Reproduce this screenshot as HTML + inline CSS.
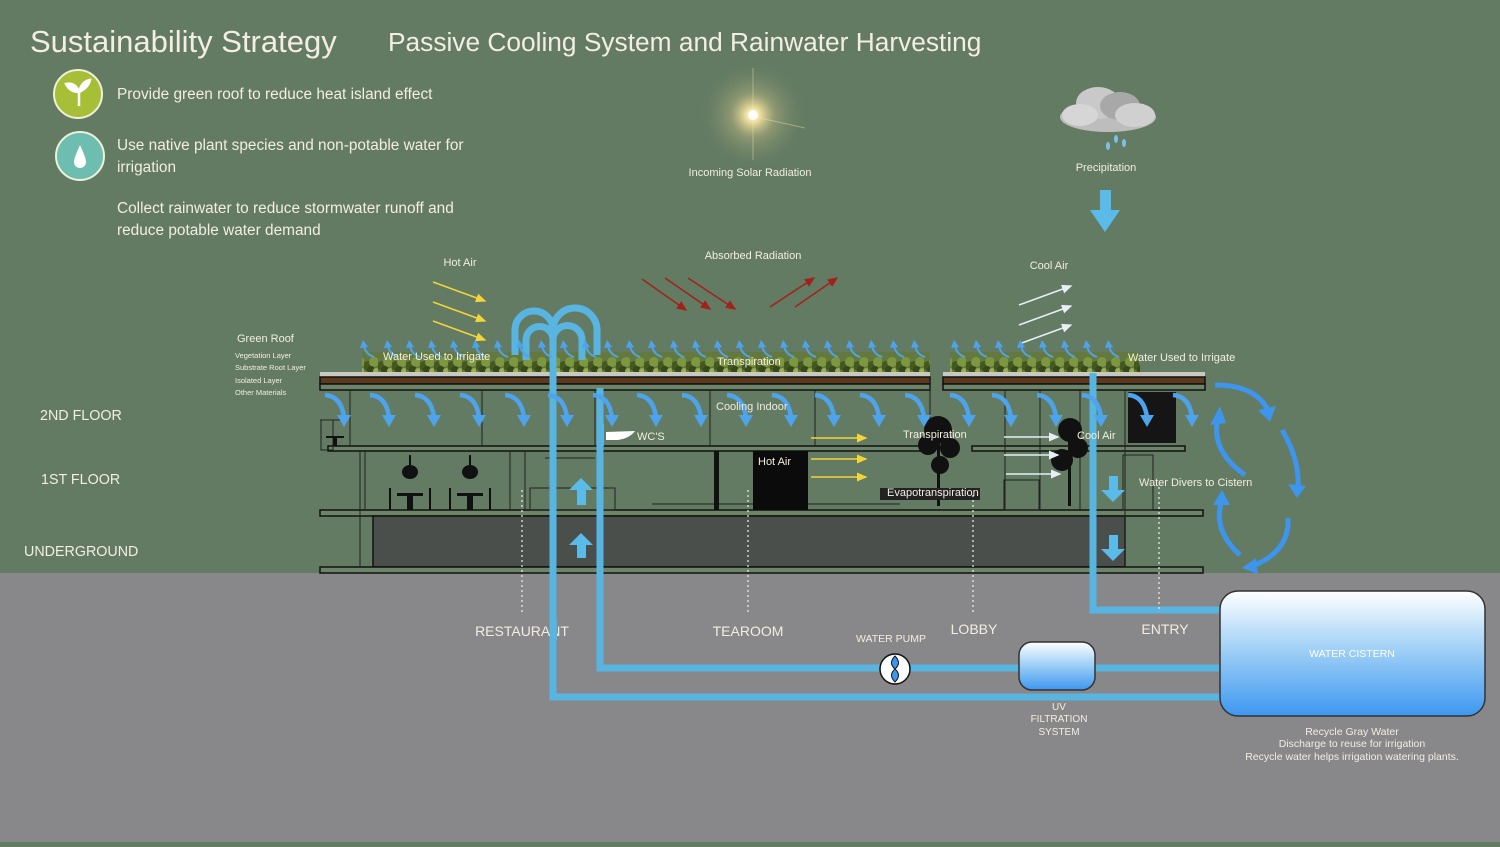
<!DOCTYPE html>
<html><head><meta charset="utf-8"><style>
html,body{margin:0;padding:0;}
body{width:1500px;height:842px;overflow:hidden;background:#637b63;font-family:"Liberation Sans",sans-serif;}
svg text{font-family:"Liberation Sans",sans-serif;}
</style></head><body>
<svg width="1500" height="842" viewBox="0 0 1500 842" xmlns="http://www.w3.org/2000/svg">
<defs>
<radialGradient id="sun" cx="0.5" cy="0.5" r="0.5">
<stop offset="0" stop-color="#fffbe8"/><stop offset="0.12" stop-color="#f3e2a0"/><stop offset="0.4" stop-color="#b9b580" stop-opacity="0.5"/><stop offset="1" stop-color="#637b63" stop-opacity="0"/>
</radialGradient>
<linearGradient id="tank" x1="0" y1="0" x2="0" y2="1"><stop offset="0" stop-color="#ffffff"/><stop offset="0.45" stop-color="#a3d2f6"/><stop offset="1" stop-color="#3d97f0"/></linearGradient>
<pattern id="plants" width="14" height="22" patternUnits="userSpaceOnUse">
<rect width="14" height="22" fill="#63793f"/>
<circle cx="4" cy="14" r="5" fill="#44591f"/><circle cx="10" cy="10" r="5" fill="#7d9640"/><circle cx="7" cy="18" r="4" fill="#35491a"/><circle cx="12" cy="19" r="3" fill="#98ad55"/>
</pattern>
<g id="ca"><path d="M0 2 Q16 3 19 24" stroke="#4ea4ec" stroke-width="4.5" fill="none"/><polygon points="12,22 26,22 19,34" fill="#4ea4ec"/></g>
<g id="ra"><path d="M12 15 Q3 12 2 3" stroke="#4ea4ec" stroke-width="2" fill="none"/><polygon points="-2,6 6,5 1,-2" fill="#4ea4ec"/></g>
<marker id="my" markerWidth="8" markerHeight="8" refX="6" refY="3" orient="auto"><path d="M0,0 L7,3 L0,6z" fill="#f3d43a"/></marker>
<marker id="mr" markerWidth="8" markerHeight="8" refX="6" refY="3" orient="auto"><path d="M0,0 L7,3 L0,6z" fill="#a0221a"/></marker>
<marker id="mw" markerWidth="8" markerHeight="8" refX="6" refY="3" orient="auto"><path d="M0,0 L7,3 L0,6z" fill="#e8eef6"/></marker>
</defs>

<rect x="0" y="573" width="1500" height="269" fill="#88888a"/>

<text x="30" y="52" font-size="31" fill="#f3ede2">Sustainability Strategy</text>
<text x="388" y="51" font-size="26.3" fill="#f3ede2">Passive Cooling System and Rainwater Harvesting</text>
<circle cx="78" cy="94" r="24" fill="#a7bf36" stroke="#eef0d8" stroke-width="2"/>
<path d="M79 106 L79 92 M79 92 Q70 92 66 84 Q75 82 79 92 M79 92 Q88 88 90 80 Q82 81 79 92" stroke="#fff" stroke-width="2.5" fill="#fff"/>
<circle cx="80" cy="156" r="24" fill="#6dbdb0" stroke="#eef0d8" stroke-width="2"/>
<path d="M80 145 Q74 158 74 162 A6 6 0 0 0 86 162 Q86 158 80 145z" fill="#fff"/>
<g font-size="15.4" fill="#f3ede2">
<text x="117" y="99">Provide green roof to reduce heat island effect</text>
<text x="117" y="150">Use native plant species and non-potable water for</text>
<text x="117" y="172">irrigation</text>
<text x="117" y="213">Collect rainwater to reduce stormwater runoff and</text>
<text x="117" y="235">reduce potable water demand</text>
</g>

<circle cx="753" cy="115" r="55" fill="url(#sun)"/>
<line x1="753" y1="68" x2="753" y2="160" stroke="#f3e8b0" stroke-width="1" opacity="0.4"/>
<line x1="760" y1="118" x2="805" y2="128" stroke="#f3e8b0" stroke-width="1" opacity="0.4"/>
<circle cx="753" cy="115" r="5" fill="#fff"/>
<g fill="#bdbdbd">
<ellipse cx="1108" cy="117" rx="48" ry="15"/><ellipse cx="1098" cy="103" rx="22" ry="16" fill="#c9c9c9"/><ellipse cx="1120" cy="106" rx="20" ry="14" fill="#a8a8a8"/><ellipse cx="1135" cy="115" rx="20" ry="12" fill="#d0d0d0"/><ellipse cx="1080" cy="115" rx="18" ry="11" fill="#d6d6d6"/>
</g>
<g fill="#7fc0ea"><ellipse cx="1108" cy="146" rx="2" ry="4"/><ellipse cx="1116" cy="139" rx="2" ry="4"/><ellipse cx="1124" cy="143" rx="2" ry="4"/></g>
<g font-size="11" fill="#f3ede2" text-anchor="middle">
<text x="750" y="176">Incoming Solar Radiation</text>
<text x="1106" y="171">Precipitation</text>
<text x="753" y="259">Absorbed Radiation</text>
<text x="1049" y="269">Cool Air</text>
<text x="460" y="266">Hot Air</text>
</g>
<polygon points="1100,190 1111,190 1111,210 1120,210 1105,232 1090,210 1100,210" fill="#5bbbe8"/>

<g stroke="#f3d43a" stroke-width="1.5" marker-end="url(#my)">
<line x1="433" y1="282" x2="485" y2="301"/><line x1="433" y1="302" x2="485" y2="321"/><line x1="433" y1="321" x2="485" y2="340"/>
</g>
<g stroke="#a0221a" stroke-width="1.5" marker-end="url(#mr)">
<line x1="642" y1="279" x2="686" y2="310"/><line x1="665" y1="278" x2="710" y2="309"/><line x1="688" y1="278" x2="735" y2="309"/>
<line x1="770" y1="307" x2="814" y2="278"/><line x1="795" y1="307" x2="837" y2="278"/>
</g>
<g stroke="#e8eef6" stroke-width="1.5" marker-end="url(#mw)">
<line x1="1019" y1="305" x2="1071" y2="286"/><line x1="1019" y1="325" x2="1071" y2="306"/><line x1="1019" y1="344" x2="1071" y2="325"/>
</g>

<text x="237" y="342" font-size="11" fill="#f3ede2">Green Roof</text>
<g font-size="7.5" fill="#f3ede2">
<text x="235" y="358">Vegetation Layer</text><text x="235" y="370">Substrate Root Layer</text><text x="235" y="383">Isolated Layer</text><text x="235" y="395">Other Materials</text>
</g>
<g font-size="14.3" fill="#f3ede2">
<text x="40" y="420">2ND FLOOR</text><text x="41" y="484">1ST FLOOR</text><text x="24" y="556">UNDERGROUND</text>
</g>

<rect x="362" y="352" width="568" height="21" fill="url(#plants)"/>
<rect x="950" y="352" width="190" height="21" fill="url(#plants)"/>

<g stroke="#111" stroke-width="1.5">
<rect x="320" y="372" width="610" height="5" fill="#c9c9c2" stroke="none"/>
<rect x="320" y="377" width="610" height="7" fill="#5b3a1f"/>
<rect x="320" y="384" width="610" height="6" fill="#6c8568"/>
<rect x="943" y="372" width="262" height="5" fill="#c9c9c2" stroke="none"/>
<rect x="943" y="377" width="262" height="7" fill="#5b3a1f"/>
<rect x="943" y="384" width="262" height="6" fill="#6c8568"/>
<rect x="328" y="446" width="600" height="5" fill="#6c8568"/>
<rect x="972" y="446" width="213" height="5" fill="#6c8568"/>
<rect x="320" y="510" width="883" height="6" fill="#6c8568"/>
<rect x="373" y="516" width="752" height="51" fill="#4b4f4b"/>
<rect x="320" y="567" width="883" height="6" fill="#6c8568"/>
</g>
<g stroke="#222" stroke-width="1" fill="none">
<line x1="350" y1="390" x2="350" y2="446"/><line x1="482" y1="390" x2="482" y2="446"/><line x1="595" y1="390" x2="595" y2="446"/><line x1="710" y1="390" x2="710" y2="446"/><line x1="815" y1="390" x2="815" y2="446"/><line x1="1005" y1="390" x2="1005" y2="510"/><line x1="1125" y1="390" x2="1125" y2="567"/>
<line x1="360" y1="451" x2="360" y2="567"/><line x1="365" y1="451" x2="365" y2="510"/><line x1="510" y1="451" x2="510" y2="510"/><line x1="525" y1="451" x2="525" y2="510"/>
<rect x="530" y="488" width="85" height="22"/><line x1="545" y1="458" x2="595" y2="458"/>
<line x1="652" y1="504" x2="900" y2="504"/><line x1="1040" y1="390" x2="1040" y2="510"/><line x1="1080" y1="390" x2="1080" y2="510"/>
<rect x="1123" y="455" width="30" height="55"/><rect x="1004" y="480" width="35" height="30"/>
<line x1="320" y1="420" x2="345" y2="420"/><rect x="321" y="420" width="12" height="30"/>
<line x1="930" y1="380" x2="930" y2="446"/>
</g>
<rect x="753" y="451" width="55" height="59" fill="#0b0b0b"/>
<rect x="714" y="451" width="5" height="59" fill="#111"/>
<rect x="1128" y="392" width="48" height="51" fill="#151515"/>
<g fill="#111">
<circle cx="938" cy="430" r="14"/><circle cx="928" cy="445" r="10"/><circle cx="950" cy="448" r="10"/><circle cx="940" cy="465" r="9"/><rect x="937" y="440" width="3" height="66"/>
<circle cx="1070" cy="430" r="12"/><circle cx="1062" cy="460" r="11"/><circle cx="1078" cy="448" r="10"/><rect x="1068" y="440" width="3" height="66"/>
<rect x="880" y="488" width="100" height="12" fill="#222"/>
</g>
<g fill="#111">
<ellipse cx="410" cy="472" rx="8" ry="7"/><rect x="409" y="455" width="2" height="12"/>
<ellipse cx="470" cy="472" rx="8" ry="7"/><rect x="469" y="455" width="2" height="12"/>
<rect x="397" y="493" width="26" height="3"/><rect x="407" y="495" width="6" height="15"/>
<rect x="457" y="493" width="26" height="3"/><rect x="467" y="495" width="6" height="15"/>
<rect x="389" y="488" width="2" height="22"/><rect x="429" y="488" width="2" height="22"/><rect x="449" y="488" width="2" height="22"/><rect x="489" y="488" width="2" height="22"/>
<rect x="326" y="436" width="18" height="2"/><rect x="333" y="437" width="4" height="9"/>
</g>
<rect x="598" y="424" width="6" height="22" fill="#5bbbe8"/>
<path d="M606 432 L635 431 Q630 438 618 440 L606 440z" fill="#fff"/>

<g fill="none" stroke="#58b4e0" stroke-width="7">
<path d="M553 340 L553 697 L1222 697"/>
<path d="M600 388 L600 668 L1222 668"/>
<path d="M1093 373 L1093 610 L1222 610"/>
<path d="M515 355 L515 330 A19 19 0 0 1 553 330 A22 22 0 0 1 597 330 L597 355"/>
<path d="M526 360 L526 340 A13 13 0 0 1 553 340 A14 14 0 0 1 582 340 L582 360"/>
</g>
<g fill="#5bbbe8">
<polygon points="577,505 586,505 586,490 593,490 581,478 569,490 577,490"/>
<polygon points="577,558 586,558 586,545 593,545 581,533 569,545 577,545"/>
<polygon points="1109,476 1118,476 1118,490 1125,490 1113,502 1101,490 1109,490"/>
<polygon points="1109,535 1118,535 1118,549 1125,549 1113,561 1101,549 1109,549"/>
</g>
<g stroke="#f3d43a" stroke-width="1.5" marker-end="url(#my)">
<line x1="811" y1="438" x2="866" y2="438"/><line x1="811" y1="459" x2="866" y2="459"/><line x1="811" y1="477" x2="866" y2="477"/>
</g>
<g stroke="#e8eef6" stroke-width="1.5" marker-end="url(#mw)">
<line x1="1004" y1="437" x2="1058" y2="437"/><line x1="1004" y1="455" x2="1058" y2="455"/><line x1="1006" y1="474" x2="1060" y2="474"/>
</g>
<g>
<use href="#ca" x="325" y="393"/><use href="#ca" x="370" y="393"/><use href="#ca" x="415" y="393"/><use href="#ca" x="460" y="393"/><use href="#ca" x="505" y="393"/><use href="#ca" x="548" y="393"/><use href="#ca" x="593" y="393"/><use href="#ca" x="637" y="393"/><use href="#ca" x="682" y="393"/><use href="#ca" x="727" y="393"/><use href="#ca" x="772" y="393"/><use href="#ca" x="815" y="393"/><use href="#ca" x="860" y="393"/><use href="#ca" x="905" y="393"/><use href="#ca" x="950" y="393"/><use href="#ca" x="992" y="393"/><use href="#ca" x="1037" y="393"/><use href="#ca" x="1082" y="393"/><use href="#ca" x="1128" y="393"/><use href="#ca" x="1173" y="393"/>
</g>
<g>
<use href="#ra" x="362" y="342"/><use href="#ra" x="386" y="342"/><use href="#ra" x="408" y="342"/><use href="#ra" x="430" y="342"/><use href="#ra" x="452" y="342"/><use href="#ra" x="474" y="342"/><use href="#ra" x="496" y="342"/><use href="#ra" x="518" y="342"/><use href="#ra" x="540" y="342"/><use href="#ra" x="562" y="342"/><use href="#ra" x="584" y="342"/><use href="#ra" x="606" y="342"/><use href="#ra" x="628" y="342"/><use href="#ra" x="650" y="342"/><use href="#ra" x="672" y="342"/><use href="#ra" x="694" y="342"/><use href="#ra" x="716" y="342"/><use href="#ra" x="738" y="342"/><use href="#ra" x="760" y="342"/><use href="#ra" x="782" y="342"/><use href="#ra" x="804" y="342"/><use href="#ra" x="826" y="342"/><use href="#ra" x="848" y="342"/><use href="#ra" x="870" y="342"/><use href="#ra" x="892" y="342"/><use href="#ra" x="913" y="342"/>
<use href="#ra" x="953" y="342"/><use href="#ra" x="975" y="342"/><use href="#ra" x="997" y="342"/><use href="#ra" x="1019" y="342"/><use href="#ra" x="1041" y="342"/><use href="#ra" x="1063" y="342"/><use href="#ra" x="1085" y="342"/><use href="#ra" x="1107" y="342"/>
</g>
<g fill="none" stroke="#3d95ee" stroke-width="5">
<path d="M1215 385 Q1255 385 1268 410"/>
<path d="M1282 430 Q1300 460 1298 488"/>
<path d="M1288 518 Q1290 550 1255 565"/>
<path d="M1240 555 Q1212 530 1222 500"/>
<path d="M1245 475 Q1210 450 1218 418"/>
</g>
<g fill="#3d95ee">
<polygon points="1258,410 1276,406 1270,422"/><polygon points="1288,484 1306,486 1297,498"/><polygon points="1256,558 1258,574 1242,568"/><polygon points="1213,505 1230,505 1222,490"/><polygon points="1210,425 1226,423 1220,406"/>
</g>

<g stroke="#f0f0f0" stroke-width="1.2" stroke-dasharray="2,3">
<line x1="522" y1="490" x2="522" y2="612"/><line x1="748" y1="490" x2="748" y2="612"/><line x1="973" y1="495" x2="973" y2="612"/><line x1="1159" y1="487" x2="1159" y2="612"/>
</g>

<g font-size="11" fill="#f3ede2">
<text x="383" y="360">Water Used to Irrigate</text>
<text x="717" y="365">Transpiration</text>
<text x="716" y="410">Cooling Indoor</text>
<text x="637" y="440">WC'S</text>
<text x="758" y="465">Hot Air</text>
<text x="903" y="438">Transpiration</text>
<text x="887" y="496">Evapotranspiration</text>
<text x="1077" y="439">Cool Air</text>
<text x="1128" y="361">Water Used to Irrigate</text>
<text x="1139" y="486">Water Divers to Cistern</text>
</g>

<g font-size="14" fill="#f3ede2" text-anchor="middle">
<text x="522" y="636">RESTAURANT</text><text x="748" y="636">TEAROOM</text><text x="974" y="634">LOBBY</text><text x="1165" y="634">ENTRY</text>
</g>
<rect x="550" y="620" width="7" height="20" fill="#58b4e0"/>
<text x="891" y="642" font-size="10.5" fill="#f3ede2" text-anchor="middle">WATER PUMP</text>
<circle cx="895" cy="669" r="15" fill="#fff" stroke="#111" stroke-width="1.5"/>
<path d="M895 656 Q888 663 895 669 Q902 663 895 656z M895 682 Q888 675 895 669 Q902 675 895 682z" fill="#3d95ee" stroke="#111" stroke-width="1"/>
<rect x="1019" y="642" width="76" height="48" rx="13" fill="url(#tank)" stroke="#333" stroke-width="1.5"/>
<g font-size="10" fill="#f3ede2" text-anchor="middle"><text x="1059" y="710">UV</text><text x="1059" y="722">FILTRATION</text><text x="1059" y="735">SYSTEM</text></g>
<rect x="1220" y="591" width="265" height="125" rx="18" fill="url(#tank)" stroke="#333" stroke-width="1.5"/>
<text x="1352" y="657" font-size="10.5" fill="#fff" text-anchor="middle">WATER CISTERN</text>
<g font-size="10.5" fill="#f3ede2" text-anchor="middle"><text x="1352" y="735">Recycle Gray Water</text><text x="1352" y="747">Discharge to reuse for irrigation</text><text x="1352" y="760">Recycle water helps irrigation watering plants.</text></g>
</svg>
</body></html>
